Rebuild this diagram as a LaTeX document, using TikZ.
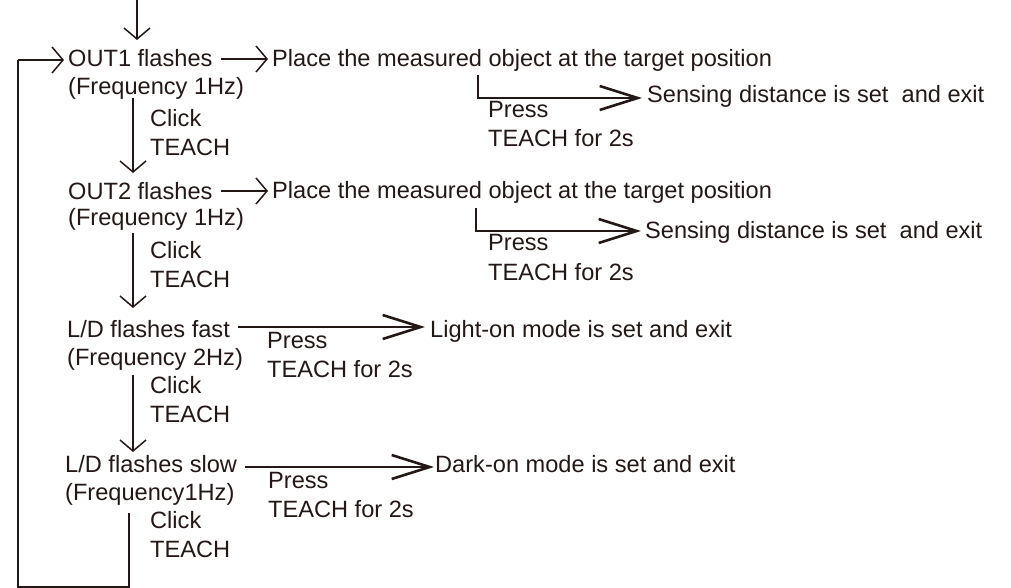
\documentclass[tikz,border=0pt]{standalone}
\usepackage{fontspec}
\setmainfont{Liberation Sans}
\usetikzlibrary{arrows.meta}
\definecolor{ink}{HTML}{231815}
\begin{document}
\begin{tikzpicture}[x=1pt,y=-1pt,
  txt/.style={anchor=base west,inner sep=0pt,font=\fontsize{23.6}{28}\selectfont,text=ink},
  thinline/.style={draw=ink,line width=1.5pt},
  thickline/.style={draw=ink,line width=2.4pt},
  looplin/.style={draw=ink,line width=2pt},
  vtip/.style={-{Straight Barb[length=11pt,width=26pt,line width=1.5pt]}},
  ptip/.style={-{Straight Barb[length=38pt,width=24pt,line width=2.6pt]}}
]
\useasboundingbox (0,0) rectangle (1011,588);

% texts
\node[txt] (o1) at (68,67) {OUT1 flashes};
\node[txt] (f1) at (68,95) {(Frequency 1Hz)};
\node[txt] (p1) at (272,67) {Place the measured object at the target position};
\node[txt] (c1) at (150,127) {Click};
\node[txt] (t1) at (150,156) {TEACH};
\node[txt] (pr1) at (488,118) {Press};
\node[txt] (pt1) at (488,147) {TEACH for 2s};
\node[txt] (s1) at (647,103) {Sensing distance is set\ \ and exit};

\node[txt] (o2) at (68,200) {OUT2 flashes};
\node[txt] (f2) at (68,225) {(Frequency 1Hz)};
\node[txt] (p2) at (272,198) {Place the measured object at the target position};
\node[txt] (c2) at (150,258) {Click};
\node[txt] (t2) at (150,287) {TEACH};
\node[txt] (pr2) at (488,250) {Press};
\node[txt] (pt2) at (488,280) {TEACH for 2s};
\node[txt] (s2) at (645,238) {Sensing distance is set\ \ and exit};

\node[txt] (o3) at (67,337) {L/D flashes fast};
\node[txt] (f3) at (67,365) {(Frequency 2Hz)};
\node[txt] (pr3) at (267,348) {Press};
\node[txt] (pt3) at (267,377) {TEACH for 2s};
\node[txt] (l3) at (430,337) {Light-on mode is set and exit};
\node[txt] (c3) at (150,393) {Click};
\node[txt] (t3) at (150,422) {TEACH};

\node[txt] (o4) at (65,472) {L/D flashes slow};
\node[txt] (f4) at (65,500) {(Frequency1Hz)};
\node[txt] (pr4) at (268,488) {Press};
\node[txt] (pt4) at (268,517) {TEACH for 2s};
\node[txt] (d4) at (435,472) {Dark-on mode is set and exit};
\node[txt] (c4) at (150,528) {Click};
\node[txt] (t4) at (150,557) {TEACH};

% coordinates
\coordinate (top0) at (137,0);
\coordinate (top1) at (137,40);
\coordinate (a1s) at (221,59);
\coordinate (a1e) at (268,59);
\coordinate (a2s) at (221,191);
\coordinate (a2e) at (268,191);
\coordinate (k1s) at (133,98);
\coordinate (k1e) at (133,173);
\coordinate (k2s) at (133,233);
\coordinate (k2e) at (133,308);
\coordinate (k3s) at (133,375);
\coordinate (k3e) at (133,452);
\coordinate (b1a) at (478,75);
\coordinate (b1b) at (478,98);
\coordinate (b1e) at (642,98);
\coordinate (b2a) at (476,208);
\coordinate (b2b) at (476,231);
\coordinate (b2e) at (641,231);
\coordinate (l3s) at (238,327);
\coordinate (l3e) at (425,327);
\coordinate (d4s) at (245,467);
\coordinate (d4e) at (434,467);
\coordinate (q0) at (129,513);
\coordinate (q1) at (129,587);
\coordinate (q2) at (18,587);
\coordinate (q3) at (18,60);
\coordinate (q4) at (64,60);

% connectors
\draw[thinline,vtip] (top0) -- (top1);
\draw[thinline,vtip] (a1s) -- (a1e);
\draw[thinline,vtip] (a2s) -- (a2e);
\draw[thinline,vtip] (k1s) -- (k1e);
\draw[thinline,vtip] (k2s) -- (k2e);
\draw[thinline,vtip] (k3s) -- (k3e);
\draw[thickline,ptip] (b1a) -- (b1b) -- (b1e);
\draw[thickline,ptip] (b2a) -- (b2b) -- (b2e);
\draw[thickline,ptip] (l3s) -- (l3e);
\draw[thickline,ptip] (d4s) -- (d4e);
\draw[looplin] (q0) -- (q1) -- (q2) -- (q3);
\draw[thinline,vtip] (q3) -- (q4);
\end{tikzpicture}
\end{document}
